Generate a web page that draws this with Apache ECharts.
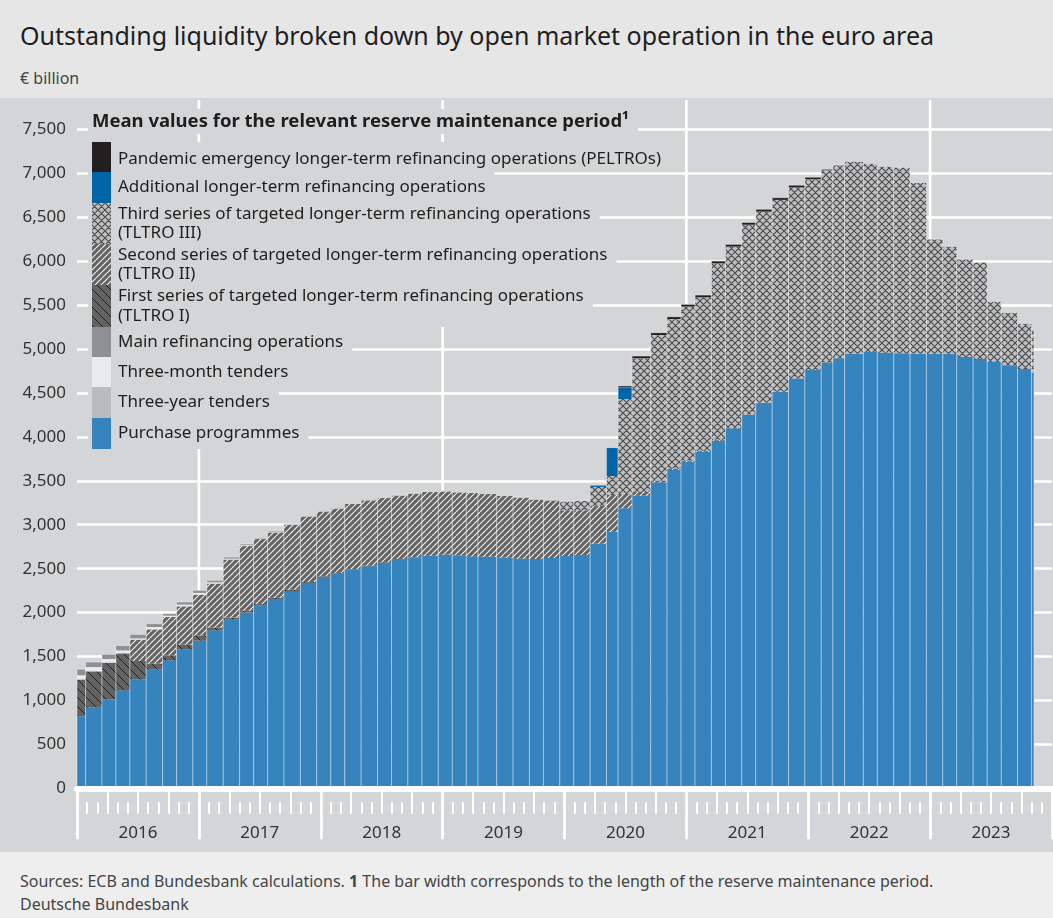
<!DOCTYPE html>
<html>
<head>
<meta charset="utf-8">
<title>Outstanding liquidity by open market operation</title>
<script src="https://cdn.jsdelivr.net/npm/echarts@6/dist/echarts.min.js"></script>
<style>
  html, body { margin: 0; padding: 0; }
  body { width: 1053px; height: 918px; position: relative; font-family: "Noto Sans", sans-serif; background: #ffffff; }
  #head { position: absolute; left: 0; top: 0; width: 1053px; height: 98px; background: #e6e6e6; }
  #title { position: absolute; left: 20px; top: 18px; font-size: 25px; color: #1e1e1e; white-space: nowrap; }
  #unit { position: absolute; left: 20px; top: 67px; font-size: 16px; color: #444; }
  #chart { position: absolute; left: 0; top: 98px; width: 1053px; height: 754px; }
  #foot { position: absolute; left: 0; top: 852px; width: 1053px; height: 66px; background: #eeeeee; color: #444; font-size: 16px; }
  #foot div { position: absolute; left: 20px; white-space: nowrap; }
</style>
</head>
<body>
<div id="head">
  <div id="title">Outstanding liquidity broken down by open market operation in the euro area</div>
  <div id="unit">€ billion</div>
</div>
<div id="chart"></div>
<div id="foot">
  <div style="top:18px">Sources: ECB and Bundesbank calculations. <b>1</b> The bar width corresponds to the length of the reserve maintenance period.</div>
  <div style="top:41px">Deutsche Bundesbank</div>
</div>
<script>
// reserve maintenance periods (start dates), last one still running
var periodStart = [
  '2015-12-09','2016-01-27','2016-03-16','2016-04-27','2016-06-08','2016-07-27','2016-09-14','2016-10-26','2016-12-14',
  '2017-01-25','2017-03-15','2017-05-03','2017-06-14','2017-07-26','2017-09-13','2017-11-01','2017-12-20',
  '2018-01-31','2018-03-14','2018-05-02','2018-06-20','2018-08-01','2018-09-19','2018-10-31','2018-12-19',
  '2019-01-30','2019-03-13','2019-04-17','2019-06-12','2019-07-31','2019-09-18','2019-10-30','2019-12-18',
  '2020-01-29','2020-03-18','2020-05-06','2020-06-10','2020-07-22','2020-09-16','2020-11-04','2020-12-16',
  '2021-01-27','2021-03-17','2021-04-28','2021-06-16','2021-07-28','2021-09-15','2021-11-03','2021-12-22',
  '2022-02-09','2022-03-16','2022-04-20','2022-06-15','2022-07-27','2022-09-14','2022-11-02','2022-12-21',
  '2023-02-08','2023-03-22','2023-05-10','2023-06-21','2023-08-02','2023-09-20','2023-11-01'
];
var lastPeriodEnd = '2023-11-08';

// € billion, mean values per period
var purchase = [820,918,1009,1115,1237,1351,1457,1578,1680,
  1798,1920,1999,2083,2154,2245,2337,2405,
  2443,2489,2527,2564,2603,2629,2648,2660,
  2652,2640,2637,2626,2614,2610,2621,2644,
  2655,2785,2920,3187,3330,3483,3623,3717,
  3831,3956,4097,4249,4385,4510,4666,4761,
  4848,4894,4943,4966,4958,4951,4947,4943,
  4943,4909,4886,4855,4814,4772,4730];
var threeYear = [0,0,0,0,0,0,0,0,0, 0,0,0,0,0,0,0,0, 0,0,0,0,0,0,0,0, 0,0,0,0,0,0,0,0,
  0,0,0,0,0,0,0,0, 0,0,0,0,0,0,0,0, 0,0,0,0,0,0,0,0, 0,0,0,0,0,0,0];
var tltro1 = [418,413,421,421,212,68,57,57,61,
  31,23,23,14,14,14,10,8,
  8,8,8,8,8,0,0,0,
  0,0,0,0,0,0,0,0, 0,0,0,0,0,0,0,0, 0,0,0,0,0,0,0,0, 0,0,0,0,0,0,0,0, 0,0,0,0,0,0,0];
var tltro2 = [0,0,0,0,243,390,436,436,463,
  501,660,735,740,745,738,743,737,
  734,739,743,732,720,725,724,720,
  717,721,712,701,694,674,655,520,
  509,430,418,151,46,20,18,15,
  12,10,8,5,5,3,0,0,
  0,0,0,0,0,0,0,0, 0,0,0,0,0,0,0];
var tltro3 = [0,0,0,0,0,0,0,0,0, 0,0,0,0,0,0,0,0, 0,0,0,0,0,0,0,0,
  0,0,0,0,0,2,3,99,
  106,215,216,1093,1517,1655,1699,1749,
  1744,2008,2059,2159,2173,2183,2172,2170,
  2185,2195,2191,2145,2119,2115,1947,1306,
  1223,1112,1098,685,600,517,491];
var additional = [0,0,0,0,0,0,0,0,0, 0,0,0,0,0,0,0,0, 0,0,0,0,0,0,0,0, 0,0,0,0,0,0,0,0,
  0,19,322,132,0,0,0,0, 0,0,0,0,0,0,0,0, 0,0,0,0,0,0,0,0, 0,0,0,0,0,0,0];
var threeMonth = [49,49,41,34,15,27,15,20,20,
  15,12,10,7,7,7,5,5,
  5,4,4,4,4,4,4,4,
  4,3,3,3,3,3,3,3,
  2,2,1,1,1,1,1,1,
  1,1,1,1,1,1,1,1,
  1,1,1,1,1,1,1,1,
  1,1,1,1,1,1,1];
var mro = [68,57,54,54,45,38,23,29,29,
  22,17,13,9,8,8,7,5,
  5,4,4,4,4,4,4,4,
  4,4,4,4,4,4,3,3,
  2,2,1,1,1,1,1,1,
  1,1,1,1,1,1,1,1,
  1,1,1,1,1,1,2,2,
  2,2,2,2,2,2,2];
var peltro = [0,0,0,0,0,0,0,0,0, 0,0,0,0,0,0,0,0, 0,0,0,0,0,0,0,0, 0,0,0,0,0,0,0,0,
  0,0,0,15,25,25,25,25,
  25,25,25,25,25,24,24,22,
  10,3,0,0,0,0,0,0, 0,0,0,0,0,0,0];

var years = ['2016','2017','2018','2019','2020','2021','2022','2023'];
var yearLines = [12, 36, 60, 84];   // months since Jan 2016 (2017, 2019, 2021, 2023)

// --- helpers ---
function toMonths(s) {
  var d = Date.parse(s + 'T00:00:00Z');
  var y = parseInt(s.slice(0, 4), 10);
  var a = Date.UTC(y, 0, 1), b = Date.UTC(y + 1, 0, 1);
  return (y - 2016) * 12 + 12 * (d - a) / (b - a);
}
function hatch(size, bg, fg, lw, dirs) {
  var c = document.createElement('canvas');
  c.width = c.height = size;
  var g = c.getContext('2d');
  g.fillStyle = bg; g.fillRect(0, 0, size, size);
  g.strokeStyle = fg; g.lineWidth = lw;
  g.beginPath();
  [-size, 0, size].forEach(function (o) {
    if (dirs.indexOf('/') >= 0) { g.moveTo(o, size); g.lineTo(o + size, 0); }
    if (dirs.indexOf('\\') >= 0) { g.moveTo(o, 0); g.lineTo(o + size, size); }
  });
  g.stroke();
  return { image: c, repeat: 'repeat' };
}

var PANEL = '#d4d5d7';
var fills = {
  purchase: '#3584bd',
  threeYear: '#b9bbbe',
  tltro1: hatch(9, '#636364', '#1a1a1a', 0.9, '\\'),
  tltro2: hatch(6, '#646465', '#f4f4f4', 1.1, '/'),
  tltro3: hatch(7, '#bebfc1', '#4a4a4b', 1.1, '/\\'),
  additional: '#0064a7',
  threeMonth: '#e9eaec',
  mro: '#8e9093',
  peltro: '#231f20'
};
var stackOrder = ['purchase','threeYear','tltro1','tltro2','tltro3','additional','threeMonth','mro','peltro'];
var series_ = { purchase: purchase, threeYear: threeYear, tltro1: tltro1, tltro2: tltro2, tltro3: tltro3,
  additional: additional, threeMonth: threeMonth, mro: mro, peltro: peltro };

var barData = periodStart.map(function (s, i) {
  var x0 = Math.max(0, toMonths(s));
  var x1 = toMonths(i + 1 < periodStart.length ? periodStart[i + 1] : lastPeriodEnd);
  var row = [x0, x1];
  stackOrder.forEach(function (k) { row.push(series_[k][i]); });
  return row;
});

function renderBar(params, api) {
  var x0 = api.value(0), x1 = api.value(1);
  var base = 0, kids = [];
  stackOrder.forEach(function (k, j) {
    var v = api.value(j + 2);
    if (!v) return;
    var a = api.coord([x0, base]), b = api.coord([x1, base + v]);
    kids.push({ type: 'rect', shape: { x: a[0], y: b[1], width: b[0] - a[0], height: a[1] - b[1] },
      style: { fill: fills[k] } });
    base += v;
  });
  var p = api.coord([x0, 0]), q = api.coord([x1, base]);
  kids.push({ type: 'rect', shape: { x: p[0], y: q[1], width: q[0] - p[0], height: p[1] - q[1] },
    style: { fill: 'none', stroke: 'rgba(255,255,255,0.38)', lineWidth: 1 } });
  return { type: 'group', children: kids };
}
function renderYearLine(params, api) {
  var p = api.coord([api.value(0), 0]);
  return { type: 'line', shape: { x1: p[0], y1: 2, x2: p[0], y2: p[1] },
    style: { stroke: '#ffffff', lineWidth: 2.7 } };
}

// --- legend (drawn with graphic, page y minus 98) ---
var T = 98;
var FONT = '"Noto Sans", sans-serif';
var legendRows = [
  { key: 'peltro', text: 'Pandemic emergency longer-term refinancing operations (PELTROs)', y0: 142, y1: 172, bg1: 176 },
  { key: 'additional', text: 'Additional longer-term refinancing operations', y0: 172, y1: 203 },
  { key: 'tltro3', text: 'Third series of targeted longer-term refinancing operations\n(TLTRO III)', y0: 203, y1: 244 },
  { key: 'tltro2', text: 'Second series of targeted longer-term refinancing operations\n(TLTRO II)', y0: 244, y1: 285 },
  { key: 'tltro1', text: 'First series of targeted longer-term refinancing operations\n(TLTRO I)', y0: 285, y1: 327 },
  { key: 'mro', text: 'Main refinancing operations', y0: 327, y1: 357 },
  { key: 'threeMonth', text: 'Three-month tenders', y0: 357, y1: 387 },
  { key: 'threeYear', text: 'Three-year tenders', y0: 387, y1: 418 },
  { key: 'purchase', text: 'Purchase programmes', y0: 418, y1: 449 }
];
var graphics = [{
  type: 'text', left: 88, top: 109 - T, z: 10,
  style: { text: 'Mean values for the relevant reserve maintenance period¹', font: 'bold 18.5px ' + FONT, fill: '#1e1e1e',
    backgroundColor: PANEL, padding: [3, 9, 3, 4] }
}];
legendRows.forEach(function (r) {
  var lines = r.text.split('\n').length;
  var lh = 19.5;
  var h = (r.bg1 || r.y1) - r.y0;
  var pad = (h - lines * lh) / 2;
  graphics.push({
    type: 'text', left: 88, top: r.y0 - T, z: 10,
    style: { text: r.text, font: '17px ' + FONT, fill: '#1e1e1e', lineHeight: lh,
      backgroundColor: PANEL, padding: [pad, 9, pad + ((r.bg1 ? -4 : 0)), 30] }
  });
  graphics.push({
    type: 'rect', z: 11, shape: { x: 92, y: r.y0 - T, width: 19, height: r.y1 - r.y0 },
    style: { fill: fills[r.key] }
  });
});

var chart = echarts.init(document.getElementById('chart'), null, { renderer: 'canvas' });
chart.setOption({
  backgroundColor: PANEL,
  animation: false,
  textStyle: { fontFamily: FONT },
  grid: { left: 77, right: 1, top: 31.4, bottom: 63.7 },
  yAxis: {
    type: 'value', min: 0, max: 7500, interval: 500,
    axisLine: { show: false }, axisTick: { show: false },
    axisLabel: { color: '#333', fontSize: 17, margin: 11,
      formatter: function (v) { return v.toLocaleString('en-US'); } },
    splitLine: { lineStyle: { color: '#ffffff', width: 2.7 } }
  },
  xAxis: [
    { type: 'value', min: 0, max: 96, interval: 12, position: 'bottom', z: 5,
      axisLine: { onZero: false, lineStyle: { color: '#ffffff', width: 6 } },
      axisTick: { length: 51, lineStyle: { color: '#ffffff', width: 2.7 } },
      axisLabel: { show: false }, splitLine: { show: false } },
    { type: 'value', min: 0, max: 96, interval: 3, position: 'bottom', offset: 14,
      axisLine: { show: false },
      axisTick: { show: true, length: 16, lineStyle: { color: '#ffffff', width: 2 } },
      axisLabel: { show: false }, splitLine: { show: false } },
    { type: 'value', min: 0, max: 96, interval: 1, position: 'bottom', offset: 14,
      axisLine: { show: false },
      axisTick: { show: true, length: 11.5, lineStyle: { color: '#ffffff', width: 2 } },
      axisLabel: { show: false }, splitLine: { show: false } },
    { type: 'category', data: years, position: 'bottom', boundaryGap: true,
      axisLine: { show: false }, axisTick: { show: false },
      axisLabel: { color: '#333', fontSize: 17, margin: 36 }, splitLine: { show: false } }
  ],
  graphic: graphics,
  series: [
    { type: 'custom', name: 'year lines', xAxisIndex: 0, yAxisIndex: 0, z: 1, silent: true,
      renderItem: renderYearLine, data: yearLines.map(function (m) { return [m]; }), encode: { x: 0 } },
    { type: 'custom', name: 'liquidity', xAxisIndex: 0, yAxisIndex: 0, z: 2,
      renderItem: renderBar, data: barData, encode: { x: [0, 1], y: 2 } }
  ]
});
</script>
</body>
</html>
